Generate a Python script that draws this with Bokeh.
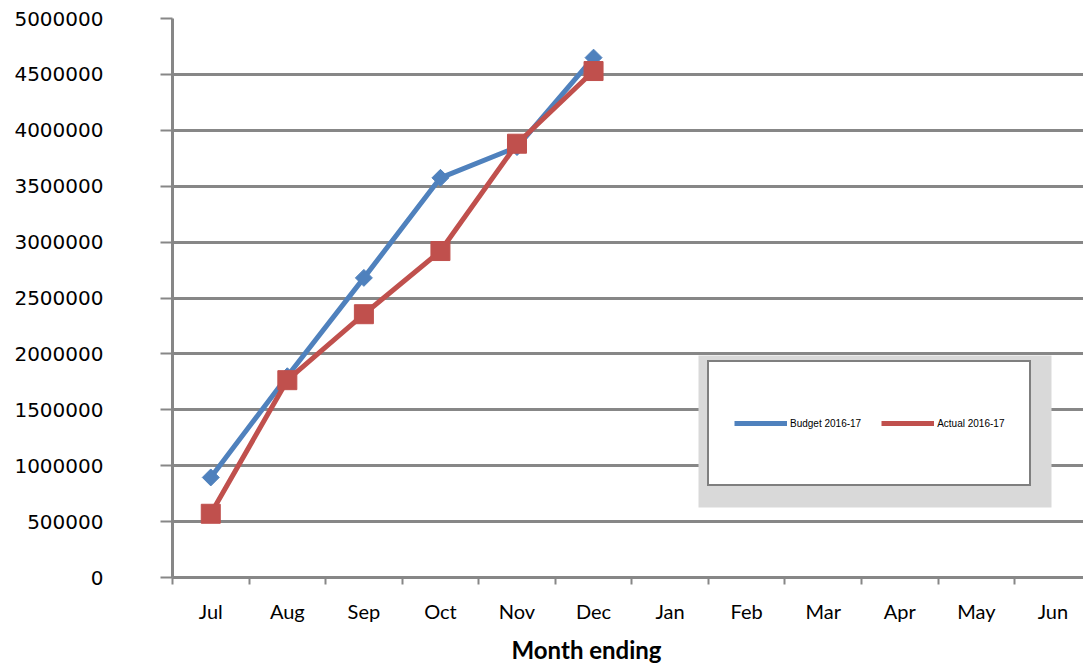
import math
from bokeh.plotting import figure
from bokeh.models import (Range1d, FixedTicker, Legend, LegendItem, BoxAnnotation,
                          Title, BasicTickFormatter, CustomJSTickFormatter)
from bokeh.embed import file_html
from bokeh.resources import INLINE

months = ["Jul", "Aug", "Sep", "Oct", "Nov", "Dec", "Jan", "Feb", "Mar", "Apr", "May", "Jun"]
budget = [895000, 1800000, 2680000, 3575000, 3850000, 4650000]
actual = [570000, 1765000, 2355000, 2920000, 3880000, 4530000]
y_ticks = list(range(0, 5000001, 500000))

x_b = [i + 0.5 for i in range(len(budget))]
x_a = [i + 0.5 for i in range(len(actual))]

GRID = "#878787"
BLUE = "#4F81BD"
RED = "#C0504D"

p = figure(frame_width=911, frame_height=559, output_backend="svg", toolbar_location=None,
           x_range=Range1d(0, 11.9), y_range=Range1d(0, 5000000),
           min_border_left=172, min_border_right=0, min_border_top=18,
           min_border_bottom=10)
p.outline_line_color = None
p.background_fill_color = "white"

# x axis
xa = p.xaxis[0]
xa.ticker = FixedTicker(ticks=[i + 0.5 for i in range(len(months))],
                        minor_ticks=list(range(len(months) + 1)))
xa.formatter = CustomJSTickFormatter(args=dict(m=months),
                                     code="return m[Math.floor(tick)] || ''")
xa.major_tick_line_color = None
xa.major_tick_out = 0
xa.major_tick_in = 0
xa.minor_tick_out = 7
xa.minor_tick_in = 0
xa.minor_tick_line_color = GRID
xa.minor_tick_line_width = 2
xa.axis_line_color = GRID
xa.axis_line_width = 3
xa.major_label_standoff = 14
xa.major_label_text_font = "Lato"
xa.major_label_text_font_size = "20px"
xa.major_label_text_color = "black"

# y axis
ya = p.yaxis[0]
ya.ticker = FixedTicker(ticks=y_ticks, minor_ticks=[])
ya.formatter = BasicTickFormatter(use_scientific=False)
ya.axis_line_color = GRID
ya.axis_line_width = 3
ya.major_tick_line_color = GRID
ya.major_tick_line_width = 2
ya.major_tick_out = 12
ya.major_tick_in = 0
ya.minor_tick_line_color = None
ya.major_label_standoff = 57
ya.major_label_text_font = "DejaVu Sans"
ya.major_label_text_font_size = "20px"
ya.major_label_text_color = "black"

p.xgrid.visible = False
p.ygrid.ticker = FixedTicker(ticks=y_ticks, minor_ticks=[])
p.ygrid.grid_line_color = GRID
p.ygrid.grid_line_width = 3

rb_line = p.line(x_b, budget, line_color=BLUE, line_width=5)
rb_pts = p.scatter(x_b, budget, marker="square", angle=math.pi / 4, size=12,
                   fill_color=BLUE, line_color=BLUE)
ra_line = p.line(x_a, actual, line_color=RED, line_width=5)
ra_pts = p.scatter(x_a, actual, marker="square", size=19,
                   fill_color=RED, line_color=RED)

box = BoxAnnotation(left=526, right=879, top=222, bottom=70,
                    left_units="screen", right_units="screen",
                    top_units="screen", bottom_units="screen",
                    fill_color="#D9D9D9", fill_alpha=1, line_color=None)
p.add_layout(box)

legend = Legend(items=[LegendItem(label="Budget 2016-17", renderers=[rb_line]),
                       LegendItem(label="Actual 2016-17", renderers=[ra_line])],
                orientation="horizontal", location=(535, 91), margin=0,
                padding=25, spacing=20, glyph_width=53, glyph_height=72,
                label_height=72, label_standoff=3,
                label_text_font="Liberation Sans", label_text_font_size="10px",
                label_text_color="black",
                border_line_color="black", border_line_width=2.5,
                background_fill_color="white", background_fill_alpha=1)
p.add_layout(legend, "center")

p.add_layout(Title(text="Month ending", align="left", offset=339, standoff=14,
                   text_font="Lato", text_font_size="24px",
                   text_font_style="bold", text_color="black"), "below")

open("out.html", "w").write(file_html(p, INLINE))
